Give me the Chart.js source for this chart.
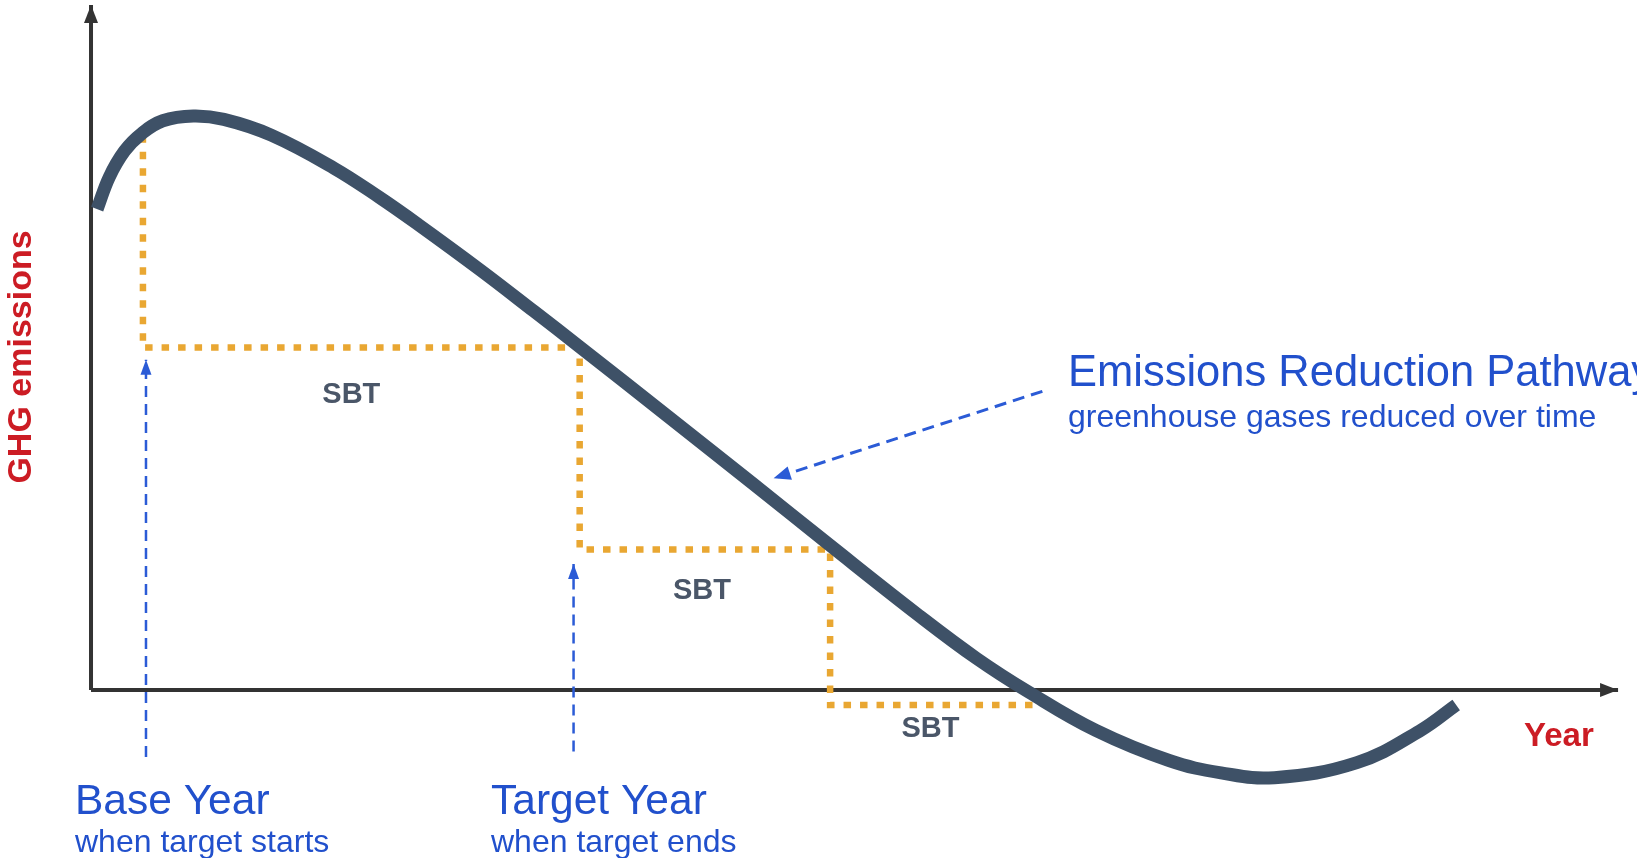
<!DOCTYPE html>
<html>
<head>
<meta charset="utf-8">
<title>Emissions Reduction Pathway</title>
<script src="https://cdn.jsdelivr.net/npm/chart.js@4.4.1/dist/chart.umd.min.js"></script>
<style>
  html, body { margin: 0; padding: 0; background: #fff; }
  #wrap { position: relative; width: 1637px; height: 858px; }
</style>
</head>
<body>
<div id="wrap"><canvas id="pathway"></canvas></div>
<script>
// emissions pathway (x = time, y = GHG emissions, arbitrary units)
const pathYears     = [0.4, 1.2, 2.2, 3.3, 4.7, 6.7, 8.7, 11.8, 15.9, 18.9, 21.4, 25.5, 29.0, 32.0, 37.8, 43.3, 48.4, 54.2, 58.0, 61.4, 65.8, 70.6, 74.0, 77.5, 82.9, 87.0, 89.4];
const pathEmissions = [70.2, 74.9, 78.7, 81.2, 83.1, 83.8, 83.3, 81.0, 76.2, 71.9, 68.0, 61.3, 55.3, 50.1, 39.9, 30.2, 21.1, 10.9, 4.6, -0.3, -5.9, -10.3, -12.1, -12.8, -10.6, -6.0, -2.2];

// science based target steps
const stepYears  = [3.4, 32.0, 48.4, 61.8];
const stepLevels = [81.0, 50.0, 20.5, -2.2];
const stepLabels = ['SBT', 'SBT', 'SBT'];

// pointer arrows
const baseArrowX    = [3.6, 3.6];
const baseArrowY    = [-9.8, 48.2];
const targetArrowX  = [31.6, 31.6];
const targetArrowY  = [-9.0, 18.4];
const pathArrowX    = [62.3, 44.7];
const pathArrowY    = [43.6, 30.9];

// axes
const xAxisX = [0, 100];
const xAxisY = [0, 0];
const yAxisX = [0, 0];
const yAxisY = [0, 100];

const pts = (xs, ys) => xs.map((x, i) => ({ x: x, y: ys[i] }));

// step outline: down at each year, then across to the next one
const stepX = [], stepY = [];
for (let i = 0; i < stepYears.length - 1; i++) {
  stepX.push(stepYears[i], stepYears[i]);
  stepY.push(stepLevels[i], stepLevels[i + 1]);
}
stepX.push(stepYears[stepYears.length - 1]);
stepY.push(stepLevels[stepLevels.length - 1]);

const BLUE = '#2b5bd6';
const TEXT_BLUE = '#2150cc';
const RED = '#cc1c24';
const SLATE = '#3e5167';
const GOLD = '#e9a732';

function line(xs, ys, opts) {
  return Object.assign({
    data: pts(xs, ys),
    pointRadius: 0,
    fill: false,
    tension: 0,
    clip: false
  }, opts);
}

const arrowHeads = {
  id: 'arrowHeads',
  afterDatasetsDraw(chart) {
    const ctx = chart.ctx;
    chart.data.datasets.forEach((d, i) => {
      if (!d.arrowHead) return;
      const el = chart.getDatasetMeta(i).data;
      const a = el[el.length - 2], b = el[el.length - 1];
      const ang = Math.atan2(b.y - a.y, b.x - a.x);
      const len = d.arrowHead[0], wid = d.arrowHead[1];
      ctx.save();
      ctx.translate(b.x, b.y);
      ctx.rotate(ang);
      ctx.fillStyle = d.borderColor;
      ctx.beginPath();
      ctx.moveTo(0, 0);
      ctx.lineTo(-len, -wid / 2);
      ctx.lineTo(-len, wid / 2);
      ctx.closePath();
      ctx.fill();
      ctx.restore();
    });
  }
};

const annotations = {
  id: 'annotations',
  afterDatasetsDraw(chart) {
    const ctx = chart.ctx;
    const xs = chart.scales.x, ys = chart.scales.y;
    const font = (size, bold) => (bold ? 'bold ' : '') + size + 'px "Liberation Sans", Arial, sans-serif';
    ctx.save();
    ctx.textBaseline = 'middle';

    // SBT under each step
    const nudgeX = [-10, -3, -2];
    const dropY = [48, 41, 24];
    ctx.fillStyle = '#4a5668';
    ctx.font = font(29, true);
    ctx.textAlign = 'center';
    stepLabels.forEach((t, i) => {
      const cx = xs.getPixelForValue((stepYears[i] + stepYears[i + 1]) / 2) + nudgeX[i];
      const cy = ys.getPixelForValue(stepLevels[i + 1]) + dropY[i];
      ctx.fillText(t, cx, cy);
    });

    // axis titles
    ctx.fillStyle = RED;
    ctx.font = font(33, true);
    ctx.textAlign = 'left';
    ctx.fillText('Year', 1524, 737);
    ctx.save();
    ctx.translate(22, 357);
    ctx.rotate(-Math.PI / 2);
    ctx.textAlign = 'center';
    ctx.font = font(34, true);
    ctx.fillText('GHG emissions', 0, 0);
    ctx.restore();

    // callouts
    ctx.fillStyle = TEXT_BLUE;
    ctx.textAlign = 'left';
    ctx.font = font(42.5, false);
    ctx.fillText('Base Year', 75, 802);
    ctx.fillText('Target Year', 491, 802);
    ctx.font = font(43.5, false);
    ctx.fillText('Emissions Reduction Pathway', 1068, 374);
    ctx.font = font(32, false);
    ctx.fillText('when target starts', 75, 843);
    ctx.fillText('when target ends', 491, 843);
    ctx.fillText('greenhouse gases reduced over time', 1068, 418);
    ctx.restore();
  }
};

new Chart(document.getElementById('pathway'), {
  type: 'line',
  data: {
    datasets: [
      line(baseArrowX, baseArrowY, { order: 0, borderColor: BLUE, borderWidth: 2.5, borderDash: [11, 7], arrowHead: [15, 11] }),
      line(targetArrowX, targetArrowY, { order: 0, borderColor: BLUE, borderWidth: 2.5, borderDash: [11, 7], arrowHead: [15, 11] }),
      line(pathArrowX, pathArrowY, { order: 0, borderColor: BLUE, borderWidth: 3, borderDash: [12, 7], arrowHead: [17, 14] }),
      line(pathYears, pathEmissions, { order: 1, borderColor: SLATE, borderWidth: 13, tension: 0.4, borderCapStyle: 'butt' }),
      line(stepX, stepY, { order: 2, borderColor: GOLD, borderWidth: 6.5, borderDash: [7.5, 9] }),
      line(xAxisX, xAxisY, { order: 3, borderColor: '#333333', borderWidth: 4, arrowHead: [18, 14] }),
      line(yAxisX, yAxisY, { order: 3, borderColor: '#333333', borderWidth: 4, arrowHead: [18, 14] })
    ]
  },
  options: {
    responsive: true,
    maintainAspectRatio: false,
    animation: false,
    events: [],
    layout: { padding: 0 },
    plugins: { legend: { display: false }, tooltip: { enabled: false } },
    scales: {
      x: { type: 'linear', min: -5.96, max: 101.24, display: false },
      y: { type: 'linear', min: -24.53, max: 100.73, display: false }
    }
  },
  plugins: [arrowHeads, annotations]
});
</script>
</body>
</html>
